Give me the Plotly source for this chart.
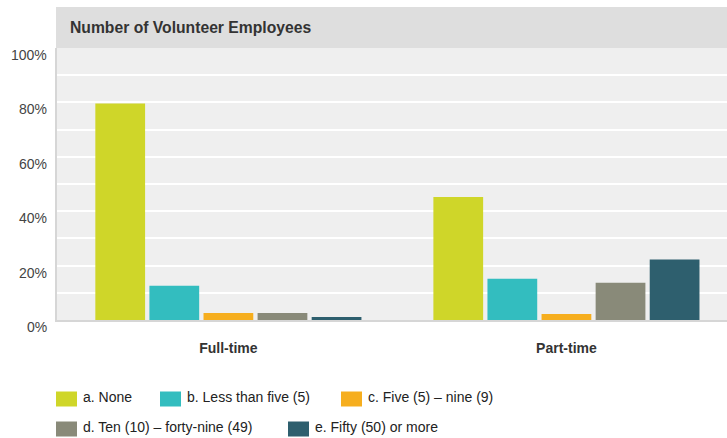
import plotly.graph_objects as go

categories = ["Full-time", "Part-time"]
series_names = ["a. None", "b. Less than five (5)", "c. Five (5) \u2013 nine (9)",
                "d. Ten (10) \u2013 forty-nine (49)", "e. Fifty (50) or more"]
series_values = [
    [79.6, 45.2],
    [12.6, 15.2],
    [2.6, 2.2],
    [2.6, 13.7],
    [1.1, 22.2],
]
series_colors = ["#cfd629", "#33bdbf", "#f6ae1e", "#898a79", "#2e5f6e"]
y_tick_values = [0, 20, 40, 60, 80, 100]
y_tick_labels = ["0%", "20%", "40%", "60%", "80%", "100%"]
title_text = "Number of Volunteer Employees"

W, H = 727, 438
ML, MR, MT, MB = 57, 0, 48, 118
plot_w = W - ML - MR
plot_h = H - MT - MB


def px_x(px):
    return (px - ML) / plot_w


def px_y(py):
    return (MT + plot_h - py) / plot_h


fig = go.Figure()
for name, vals, col in zip(series_names, series_values, series_colors):
    fig.add_trace(go.Bar(x=categories, y=vals, name=name, marker=dict(color=col, line=dict(width=0)),
                         hoverinfo="skip", showlegend=False))

FONT = "Liberation Sans, Arial, sans-serif"

# title band
fig.add_shape(type="rect", xref="paper", yref="paper",
              x0=px_x(56), x1=1, y0=1, y1=px_y(7),
              fillcolor="#dedede", line=dict(width=0), layer="below")
fig.add_annotation(xref="paper", yref="paper", x=px_x(68), y=px_y(27),
                   xanchor="left", yanchor="middle", showarrow=False,
                   text="<b>" + title_text + "</b>",
                   font=dict(family=FONT, size=15.7, color="#333333"))

# y tick labels (drawn slightly below the gridlines, as in the reference)
for v, t in zip(y_tick_values, y_tick_labels):
    fig.add_annotation(xref="paper", yref="y", x=0, y=v, xanchor="right", yanchor="middle",
                       xshift=-8, yshift=-7, showarrow=False, text=t,
                       font=dict(family=FONT, size=14, color="#444444"))

# legend (two rows, swatch + label)
legend_pos = [(56, 0), (160, 0), (341, 0), (56, 1), (288, 1)]
row_y = [399, 429]
for (lx, r), name, col in zip(legend_pos, series_names, series_colors):
    cy = row_y[r]
    fig.add_shape(type="rect", xref="paper", yref="paper",
                  x0=px_x(lx), x1=px_x(lx + 21), y0=px_y(cy + 7.5), y1=px_y(cy - 7.5),
                  fillcolor=col, line=dict(width=0))
    fig.add_annotation(xref="paper", yref="paper", x=px_x(lx + 25), y=px_y(cy - 2),
                       xanchor="left", yanchor="middle", showarrow=False, text=name,
                       font=dict(family=FONT, size=14, color="#222222"))

fig.update_layout(
    width=W, height=H,
    margin=dict(l=ML, r=MR, t=MT, b=MB, pad=0),
    paper_bgcolor="white",
    plot_bgcolor="#efefef",
    barmode="group",
    bargap=0.2,
    bargroupgap=0.08,
    font=dict(family=FONT, size=14, color="#333333"),
    showlegend=False,
    xaxis=dict(range=[-0.507, 1.475], showgrid=False, showline=True, linecolor="#d6d6d6", linewidth=2,
               ticks="", tickfont=dict(family=FONT, size=14, color="#333333"),
               tickvals=[0, 1], ticktext=["<b>" + c + "</b>" for c in categories],
               ticklabelstandoff=14, zeroline=False, fixedrange=True),
    yaxis=dict(range=[0, 100], dtick=10, tick0=0, showgrid=True, gridcolor="#ffffff", gridwidth=1.5,
               showticklabels=False, showline=True, linecolor="#d6d6d6", linewidth=2,
               zeroline=False, ticks="", fixedrange=True),
)

fig.write_html("out.html", config={"displayModeBar": False},
               post_script="document.body.style.margin='0';document.body.style.overflow='hidden';")
